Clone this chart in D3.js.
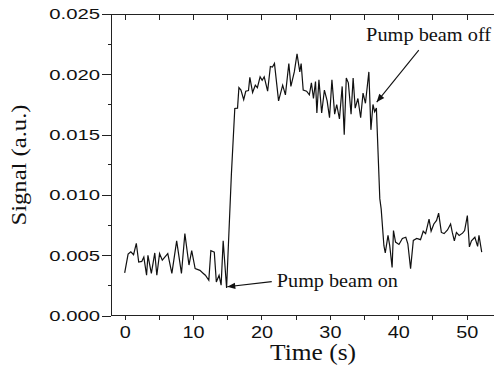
<!DOCTYPE html>
<html lang="en">
<head>
    <meta charset="utf-8">
    <style type="text/css">
        body { margin: 0; background: #fff; }
        .axis path, .axis line { stroke: #222; stroke-width: 1px; shape-rendering: crispEdges; }
        .axis text { font-family: "Liberation Sans", Arial, sans-serif; fill: #111; }
        .serif { font-family: "Liberation Serif", "Times New Roman", serif; fill: #111; }
    </style>
</head>
<body>

<script src="https://d3js.org/d3.v7.min.js" type="text/javascript"></script>

<script type="text/javascript">
    // time (s) and signal (a.u.)
    var time = [0, 0.5, 0.9, 1.3, 1.7, 2.05, 2.5, 2.8, 3.2, 3.4, 3.9, 4.4, 4.7, 5.1, 5.5, 6.3, 6.9, 7.6, 8.3, 8.8,
        9.4, 9.8, 10.3, 11.0, 11.5, 11.8, 12.3, 12.6, 13.1, 13.4, 13.8, 14.1, 14.4, 14.9,
        15.6, 16.1, 16.5, 16.7, 17.0, 17.4, 17.7, 18.1, 18.3, 18.7, 19.1, 19.4, 19.8, 20.1, 20.4,
        20.9, 21.3, 21.6, 21.9, 22.5, 23.1, 23.5, 24.0, 24.3, 24.8, 25.2,
        25.6, 25.8, 26.1, 26.6, 27.0, 27.3, 27.6, 27.9, 28.1, 28.4, 28.8, 29.2, 29.6, 29.95, 30.3,
        30.7, 31.0, 31.4, 31.8, 32.1, 32.4, 32.7, 33.1, 33.4, 33.7, 34.1, 34.5, 34.85, 35.2, 35.7,
        36.0, 36.3, 36.55, 36.8,
        37.3, 37.5, 37.9, 38.1, 38.5, 38.75, 39.1, 39.3, 39.6, 40.1, 40.6, 41.1, 41.4, 41.8, 42.2,
        42.7, 43.25, 43.65, 44.0, 44.5, 44.8, 45.2, 45.6, 45.9, 46.3, 46.7, 47.2, 47.65, 47.9, 48.2,
        48.5, 48.9, 49.4, 49.7, 50.1, 50.4, 50.7, 51.2, 51.6, 51.8, 52.2];

    // values in units of 1e-3
    var signal = [3.54, 5.1, 5.3, 5.05, 6.0, 4.45, 4.5, 4.86, 3.35, 5.0, 3.5, 5.2, 3.35, 5.14, 4.6, 5.14, 3.5, 6.2, 3.5, 6.8,
        4.2, 5.4, 3.9, 3.76, 3.5, 3.35, 2.94, 5.4, 5.27, 2.8, 3.35, 2.53, 6.2, 2.3,
        11.7, 17.17, 17.2, 18.9, 18.7, 17.9, 18.6, 18.65, 19.75, 18.5, 19.1, 18.9, 19.8, 19.5, 19.8,
        18.6, 20.65, 20.6, 20.9, 17.8, 19.1, 18.3, 20.9, 19.0, 20.2, 21.7,
        20.2, 20.9, 18.7, 18.6, 18.3, 19.3, 18.0, 19.4, 16.8, 19.55, 16.8, 18.7, 17.8, 16.4, 19.55,
        16.7, 17.5, 16.3, 19.0, 15.0, 19.7, 19.3, 16.7, 19.7, 17.2, 18.0, 16.4, 18.45, 17.6, 20.2,
        15.4, 17.5, 16.9, 17.2,
        9.7, 8.85, 5.8, 5.2, 6.65, 5.8, 4.0, 7.06, 6.1, 5.9, 6.4, 6.5, 5.96, 3.9, 6.24,
        6.4, 6.3, 7.0, 6.8, 8.0, 7.0, 7.6, 7.9, 8.5, 6.9, 6.8, 7.1, 7.6, 6.9, 6.2,
        6.9, 6.65, 6.84, 7.06, 8.3, 5.7, 6.2, 6.5, 5.74, 6.65, 5.27];

    var xTicks = [0, 5, 10, 15, 20, 25, 30, 35, 40, 45, 50];
    var xLabels = [0, 10, 20, 30, 40, 50];
    var yTicks = [0, 0.005, 0.010, 0.015, 0.020, 0.025];
    var yMinor = [0.0025, 0.0075, 0.0125, 0.0175, 0.0225];

    // annotations: text anchor and arrow tail/tip in data units
    var notes = [
        { text: "Pump beam off", tx: 35.3, ty: 0.0228, len: 125, from: [43.0, 0.0220], to: [36.85, 0.0177] },
        { text: "Pump beam on",  tx: 22.25, ty: 0.00238, len: 121, from: [21.5, 0.00282], to: [15.0, 0.0024] }
    ];

    var width = 494, height = 371;
    var mLeft = 111, mRight = 493, mTop = 14, mBottom = 315.7;

    var svg = d3.select("body").append("svg")
        .attr("width", width)
        .attr("height", height);

    var x = d3.scaleLinear().domain([-2, 53.85]).range([mLeft, mRight]);
    var y = d3.scaleLinear().domain([0, 0.025]).range([mBottom, mTop]);

    // stretch the tick labels a bit, the original font is wider
    function widen(sel, k) {
        sel.each(function () {
            var w = this.getComputedTextLength();
            if (w > 0) d3.select(this).attr("textLength", w * k).attr("lengthAdjust", "spacingAndGlyphs");
        });
    }

    // bottom axis
    var gx = svg.append("g").attr("class", "axis")
        .attr("transform", "translate(0," + mBottom + ")")
        .call(d3.axisBottom(x).tickValues(xTicks).tickSize(4).tickPadding(7)
            .tickFormat(function (d) { return xLabels.indexOf(d) >= 0 ? d : ""; }));
    gx.select(".domain").attr("d", "M" + mLeft + ",0H" + width);
    gx.selectAll("text").style("font-size", "16px");
    widen(gx.selectAll("text"), 1.24);

    // top axis, ticks inward, no labels
    var gt = svg.append("g").attr("class", "axis")
        .attr("transform", "translate(0," + mTop + ")")
        .call(d3.axisTop(x).tickValues(xTicks).tickSize(-6).tickFormat(""));
    gt.select(".domain").attr("d", "M" + mLeft + ",0H" + width);

    // left axis
    var gy = svg.append("g").attr("class", "axis")
        .attr("transform", "translate(" + mLeft + ",0)")
        .call(d3.axisLeft(y).tickValues(yTicks).tickSize(9).tickPadding(2)
            .tickFormat(d3.format(".3f")));
    gy.select(".domain").attr("d", "M0," + mTop + "V" + mBottom);
    gy.selectAll("text").style("font-size", "15.5px");
    widen(gy.selectAll("text"), 1.31);

    gy.selectAll(".minor")
        .data(yMinor)
        .enter()
        .append("line")
        .attr("class", "minor")
        .attr("x1", -3).attr("x2", 0)
        .attr("y1", function (d) { return y(d); })
        .attr("y2", function (d) { return y(d); });

    // axis titles
    svg.append("text")
        .attr("class", "serif")
        .attr("x", 313).attr("y", 360)
        .attr("text-anchor", "middle")
        .style("font-size", "23px")
        .attr("textLength", 86).attr("lengthAdjust", "spacingAndGlyphs")
        .text("Time (s)");

    svg.append("text")
        .attr("class", "serif")
        .attr("transform", "translate(26,165) rotate(-90)")
        .attr("text-anchor", "middle")
        .style("font-size", "21.5px")
        .attr("textLength", 121).attr("lengthAdjust", "spacingAndGlyphs")
        .text("Signal (a.u.)");

    // the trace
    var line = d3.line()
        .x(function (d, i) { return x(time[i]); })
        .y(function (d) { return y(d / 1000); });

    svg.append("path")
        .datum(signal)
        .attr("d", line)
        .attr("fill", "none")
        .attr("stroke", "#111")
        .attr("stroke-width", 1.2)
        .attr("stroke-linejoin", "miter");

    svg.append("defs").append("marker")
        .attr("id", "arrowhead")
        .attr("viewBox", "0 -5 10 10")
        .attr("refX", 10).attr("refY", 0)
        .attr("orient", "auto")
        .attr("markerUnits", "userSpaceOnUse")
        .attr("markerWidth", 10).attr("markerHeight", 8)
        .append("path")
        .attr("d", "M0,-4L10,0L0,4Z")
        .attr("fill", "#111");

    notes.forEach(function (n) {
        svg.append("line")
            .attr("x1", x(n.from[0])).attr("y1", y(n.from[1]))
            .attr("x2", x(n.to[0])).attr("y2", y(n.to[1]))
            .attr("stroke", "#111")
            .attr("stroke-width", 1.1)
            .attr("marker-end", "url(#arrowhead)");

        svg.append("text")
            .attr("class", "serif")
            .attr("x", x(n.tx)).attr("y", y(n.ty))
            .style("font-size", "18.5px")
            .attr("textLength", n.len).attr("lengthAdjust", "spacingAndGlyphs")
            .text(n.text);
    });
</script>

</body>
</html>
